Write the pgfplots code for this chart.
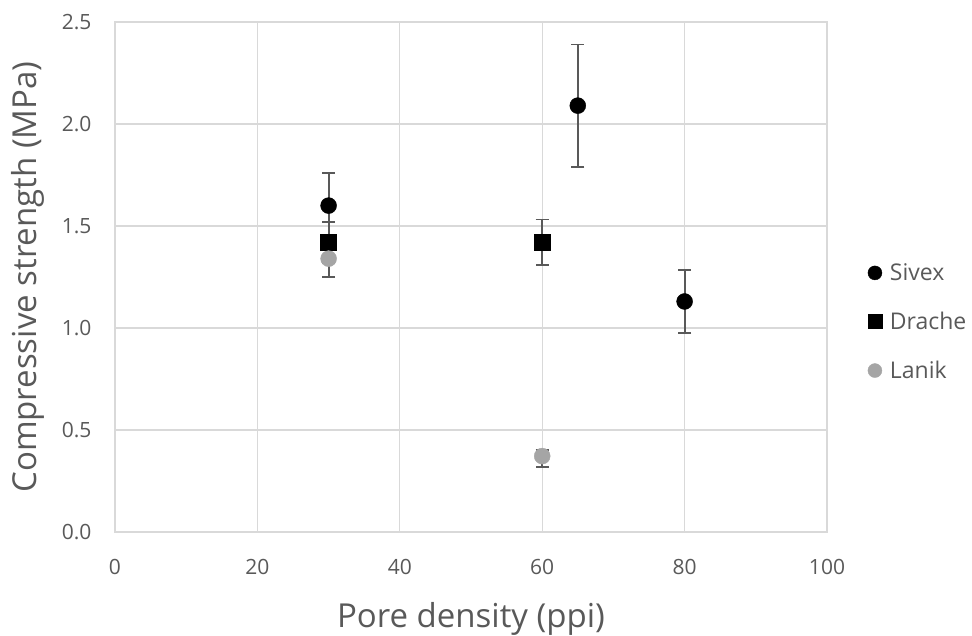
\documentclass[border=0pt]{standalone}
\usepackage{fontspec}
\setmainfont{Open Sans}
\usepackage{pgfplots}
\pgfplotsset{compat=1.18}
\definecolor{txt}{HTML}{595959}
\definecolor{gridc}{HTML}{D9D9D9}
\definecolor{lanik}{HTML}{A5A5A5}
\definecolor{errc}{HTML}{595959}

\begin{document}
\begin{tikzpicture}[x=1pt,y=1pt]
\path[use as bounding box] (0,0) rectangle (972,636);
\begin{axis}[
  at={(115pt,104pt)}, anchor=south west,
  width=712pt, height=510pt, scale only axis,
  xmin=0, xmax=100, ymin=0, ymax=2.5,
  xtick={0,20,40,60,80,100},
  ytick={0,0.5,1,1.5,2,2.5},
  yticklabel style={/pgf/number format/fixed, /pgf/number format/fixed zerofill,
    /pgf/number format/precision=1, xshift=-20pt},
  /pgf/number format/assume math mode=true,
  tick label style={font=\fontsize{21}{24}\selectfont, text=txt},
  xticklabel style={yshift=-24pt},
  label style={font=\fontsize{33}{38}\selectfont, text=txt},
  xlabel={Pore density (ppi)},
  ylabel={Compressive strength (MPa)},
  xlabel style={yshift=-21pt},
  ylabel style={yshift=11pt},
  grid=major,
  grid style={draw=gridc, line width=1.2pt},
  axis line style={draw=gridc, line width=1.2pt},
  major tick length=0pt,
  legend style={at={(1.053,0.412)}, anchor=west, draw=none, fill=none,
    font=\fontsize{23}{26}\selectfont, text=txt, row sep=26pt,
    /tikz/every odd column/.append style={column sep=6pt}},
  legend cell align=left,
  legend image post style={mark size=7pt},
  error bars/error bar style={draw=errc, line width=1.8pt},
  error bars/error mark options={rotate=90, mark size=6.5pt, draw=errc, line width=1.8pt},
]
\addplot[only marks, mark=*, mark size=8pt, black,
  error bars/.cd, y dir=both, y explicit] coordinates {
  (30,1.60) +- (0,0.16)
  (65,2.09) +- (0,0.30)
  (80,1.13) +- (0,0.155)
};
\addlegendentry{Sivex}
\addplot[only marks, mark=square*, mark size=8pt, black,
  error bars/.cd, y dir=both, y explicit] coordinates {
  (30,1.42) +- (0,0.10)
  (60,1.42) +- (0,0.112)
};
\addlegendentry{Drache}
\addplot[only marks, mark=*, mark size=8pt, lanik,
  error bars/.cd, y dir=both, y explicit] coordinates {
  (30,1.34) +- (0,0.09)
  (60,0.372) += (0,0.03) -= (0,0.055)
};
\addlegendentry{Lanik}
\end{axis}
\end{tikzpicture}
\end{document}
